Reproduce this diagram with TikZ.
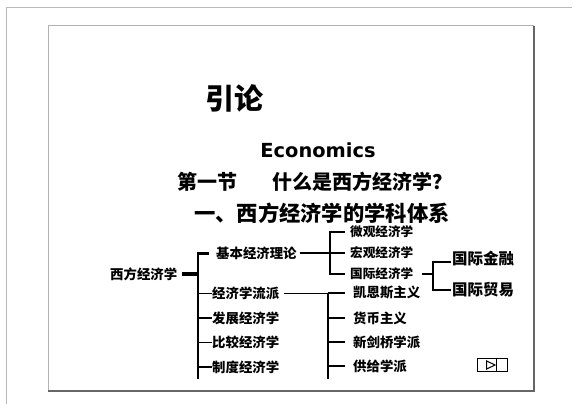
\documentclass[tikz,border=0pt]{standalone}
\usepackage{fontspec}
\newfontfamily\cjk{Noto Sans CJK SC}
\newfontfamily\latinsans{DejaVu Sans}
\usetikzlibrary{positioning}
\tikzset{
  lbl/.style={font=\cjk\bfseries\fontsize{13.4}{14}\selectfont, inner sep=0pt, anchor=west},
  smlbl/.style={lbl, font=\cjk\bfseries\fontsize{12.6}{13}\selectfont},
  biglbl/.style={lbl, font=\cjk\bfseries\fontsize{15.5}{16}\selectfont},
  branch/.style={line width=1.7pt},
  bar/.style={line width=4pt}
}
\begin{document}
\begin{tikzpicture}[x=1pt,y=-1pt]
    \useasboundingbox (0,0) rectangle (574,404);
    \draw[gray!55, line width=1.2pt] (6.5,404) -- (6.5,7.5) -- (572,7.5);
    \draw[gray!60, line width=1pt] (48,391) -- (48,26) -- (534,26);
    \draw[gray!80!black, line width=1.4pt] (534,26) -- (534,391) -- (48,391);
    % titles
    \node[font=\cjk\bfseries\fontsize{29}{30}\selectfont, inner sep=0pt] (intro) at (234,98) {引论};
    \node[font=\latinsans\bfseries\fontsize{19.4}{20}\selectfont, inner sep=0pt] (econ) at (318,150) {Economics};
    \node[font=\cjk\bfseries\fontsize{20}{21}\selectfont, inner sep=0pt, anchor=west] (sec) at (177.6,182)
        {第一节\hspace{35pt}什么是西方经济学？};
    \node[font=\cjk\bfseries\fontsize{21.3}{22}\selectfont, inner sep=0pt, anchor=west] (sub) at (194,213)
        {一、西方经济学的学科体系};
    % tree, first level
    \node[lbl] (root) at (110,274) {西方经济学};
    \node[lbl] (basic) at (216,253) {基本经济理论};
    \node[lbl] (school) at (212,293.5) {经济学流派};
    \node[lbl] (devel) at (212,318) {发展经济学};
    \node[lbl] (comp) at (212,342.5) {比较经济学};
    \node[lbl] (inst) at (212,367) {制度经济学};
    \coordinate (trunk) at (198,253);
    \coordinate (trunkend) at (198,379);
    \draw[bar] ([xshift=5pt]root.east) -- (root.east -| trunk);
    \draw[branch] (trunk) -- (trunkend);
    \draw[line width=3pt] ([xshift=-0.8pt]trunk) -- ([xshift=-7pt]basic.west);
    \foreach \n in {school,devel,comp,inst}
        \draw[branch] (\n.west -| trunk) -- (\n.west);
    % basic theory
    \node[smlbl] (micro) at (350,232) {微观经济学};
    \node[smlbl] (macro) at (350,253) {宏观经济学};
    \node[smlbl] (intl) at (350,274) {国际经济学};
    \coordinate (bk) at (330,232);
    \draw[branch] ([xshift=3pt]basic.east) -- (basic.east -| bk);
    \draw[branch] ([xshift=-5pt]micro.west) -- (micro.west -| bk) -- (intl.west -| bk) -- ([xshift=-5pt]intl.west);
    \draw[branch] ([xshift=-5pt]macro.west) -- (macro.west -| bk);
    % international economics
    \node[biglbl] (fin) at (452,259) {国际金融};
    \node[biglbl] (trade) at (452,290) {国际贸易};
    \coordinate (ik) at (433,262);
    \draw[branch] ([xshift=9pt]intl.east) -- (intl.east -| ik);
    \draw[branch] ([xshift=-1pt]fin.west |- ik) -- (ik) -- (trade.west -| ik) -- ([xshift=-1pt]trade.west);
    % schools
    \node[lbl] (keynes) at (353,293) {凯恩斯主义};
    \node[lbl] (money) at (353,318) {货币主义};
    \node[lbl] (camb) at (353,342) {新剑桥学派};
    \node[lbl] (supply) at (353,366) {供给学派};
    \coordinate (sk) at (328,293.5);
    \coordinate (skend) at (328,379);
    \draw[branch] ([xshift=5pt]school.east) -- (school.east -| sk);
    \draw[branch] (sk) -- (skend);
    \foreach \n in {keynes,money,camb,supply}
        \draw[branch] (\n.west -| sk) -- ([xshift=-8pt]\n.west);
    % button
    \draw[line width=1pt] (477.7,358.3) rectangle (507.3,371.3) (496.5,358.3) -- (496.5,371.3);
    \draw[line width=1pt] (486.7,361) -- (495,365) -- (486.7,369) -- cycle;
\end{tikzpicture}
\end{document}
